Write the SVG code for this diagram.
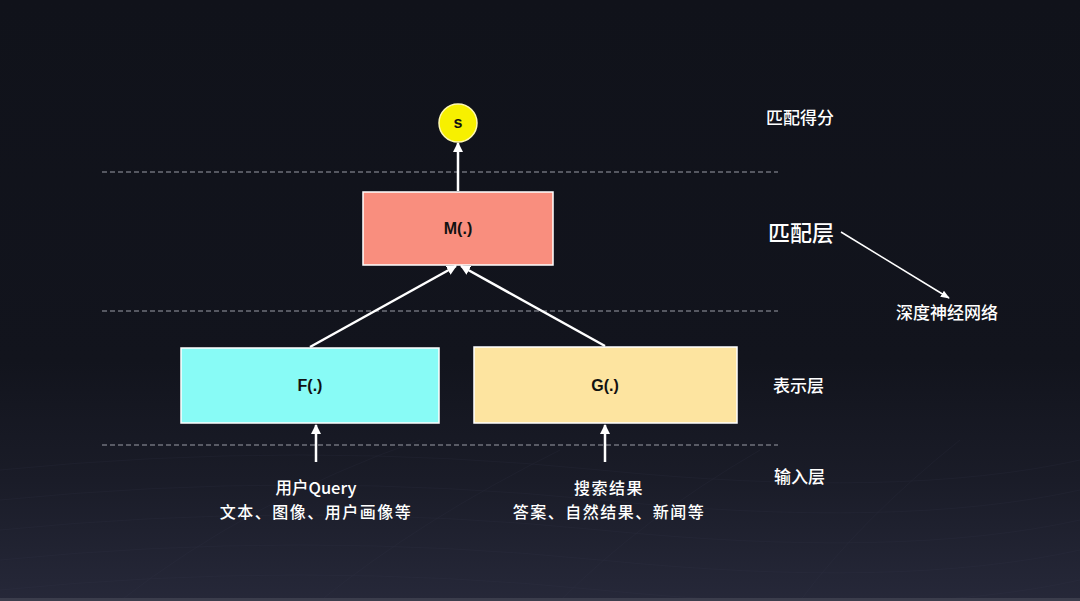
<svg xmlns="http://www.w3.org/2000/svg" width="1080" height="601" viewBox="0 0 1080 601">
<defs>
<linearGradient id="bg" x1="0" y1="0" x2="0" y2="1">
<stop offset="0" stop-color="#10121a"/>
<stop offset="0.6" stop-color="#12141d"/>
<stop offset="0.8" stop-color="#1a1c28"/>
<stop offset="1" stop-color="#262839"/>
</linearGradient>
<marker id="ah" viewBox="0 0 10 10" refX="9" refY="5" markerWidth="4" markerHeight="4" orient="auto" markerUnits="strokeWidth">
<path d="M0,0 L10,5 L0,10 z" fill="#ffffff"/>
</marker>
<marker id="ah2" viewBox="0 0 10 10" refX="9" refY="5" markerWidth="6" markerHeight="6" orient="auto" markerUnits="strokeWidth">
<path d="M0,1 L10,5 L0,9 z" fill="#ffffff"/>
</marker>
</defs>
<style>
.cn{font-family:"Noto Sans CJK SC","Liberation Sans",sans-serif;fill:#ffffff;font-weight:500}
.in{font-size:16px;letter-spacing:1.5px}
.in1{font-size:16.5px}
.lbl{font-family:"Liberation Sans","Noto Sans CJK SC",sans-serif;font-weight:bold;fill:#111111;font-size:16px}
.box{stroke:#ffffff;stroke-width:1.5}
.dash{stroke:#9a9ca6;stroke-width:1;stroke-dasharray:5,3;fill:none}
.conn{stroke:#ffffff;stroke-width:2.5;fill:none;marker-end:url(#ah)}
</style>
<rect x="0" y="0" width="1080" height="601" fill="url(#bg)"/>
<g id="mesh" stroke="#3a3d52" stroke-width="0.6" fill="none" opacity="0.25">
<path d="M0,470 Q300,440 600,470 T1080,460"/>
<path d="M0,500 Q300,470 600,500 T1080,490"/>
<path d="M0,530 Q300,500 600,530 T1080,520"/>
<path d="M0,560 Q300,530 600,560 T1080,550"/>
<path d="M0,590 Q300,560 600,590 T1080,580"/>
<path d="M120,601 Q250,500 420,440"/>
<path d="M320,601 Q420,520 560,450"/>
<path d="M560,601 Q640,520 760,450"/>
<path d="M800,601 Q860,520 960,440"/>
</g>
<rect x="0" y="598" width="1080" height="3" fill="#3b3d4c"/>
<g id="separators">
<line class="dash" x1="102" y1="172" x2="778" y2="172"/>
<line class="dash" x1="102" y1="311" x2="778" y2="311"/>
<line class="dash" x1="102" y1="445" x2="778" y2="445"/>
</g>
<g id="connectors">
<line class="conn" x1="458" y1="191" x2="458" y2="143"/>
<line class="conn" x1="310" y1="347" x2="456" y2="266"/>
<line class="conn" x1="605" y1="346" x2="461" y2="266"/>
<line class="conn" x1="316" y1="462" x2="316" y2="425"/>
<line class="conn" x1="605" y1="462" x2="605" y2="425"/>
<line stroke="#ffffff" stroke-width="1.5" fill="none" marker-end="url(#ah2)" x1="841" y1="232" x2="949" y2="298"/>
</g>
<g id="node-s">
<circle cx="458" cy="123" r="19" fill="#f7f000" stroke="#fff9b0" stroke-width="1.5"/>
<text class="lbl" x="458" y="128" text-anchor="middle" font-size="14">s</text>
</g>
<g id="node-m">
<rect class="box" x="363" y="192" width="190" height="73" fill="#f98e7e"/>
<text class="lbl" x="458" y="234" text-anchor="middle">M(.)</text>
</g>
<g id="node-f">
<rect class="box" x="181" y="348" width="258" height="75" fill="#88fbf6"/>
<text class="lbl" x="310" y="391" text-anchor="middle">F(.)</text>
</g>
<g id="node-g">
<rect class="box" x="474" y="347" width="263" height="76" fill="#fde4a0"/>
<text class="lbl" x="605" y="391" text-anchor="middle">G(.)</text>
</g>
<g id="input-query">
<text class="cn in1" x="316" y="494" text-anchor="middle">用户Query</text>
<text class="cn in" x="316" y="518" text-anchor="middle">文本、图像、用户画像等</text>
</g>
<g id="input-search">
<text class="cn in" x="609" y="494" text-anchor="middle">搜索结果</text>
<text class="cn in" x="609" y="518" text-anchor="middle">答案、自然结果、新闻等</text>
</g>
<g id="layer-labels">
<text class="cn" x="766" y="124" font-size="17">匹配得分</text>
<text class="cn" x="768" y="241" font-size="22">匹配层</text>
<text class="cn" x="896" y="319" font-size="17">深度神经网络</text>
<text class="cn" x="773" y="392" font-size="17">表示层</text>
<text class="cn" x="774" y="483" font-size="17">输入层</text>
</g>
</svg>
